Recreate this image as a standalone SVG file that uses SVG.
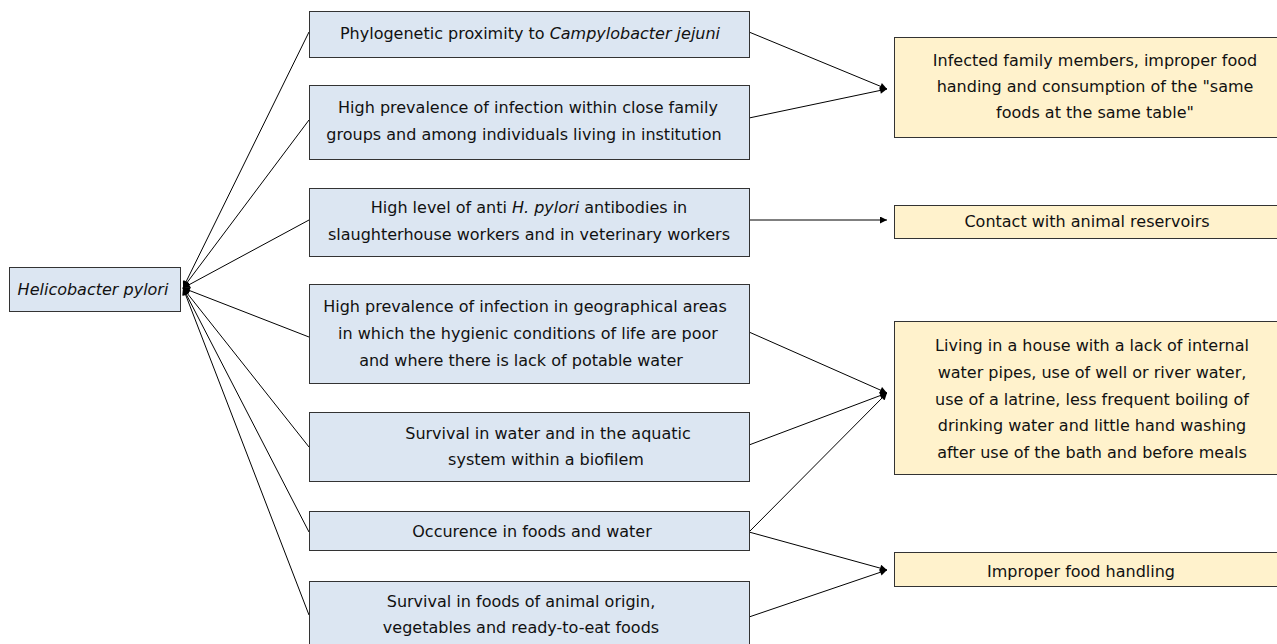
<svg xmlns="http://www.w3.org/2000/svg" width="1277" height="644" viewBox="0 0 1277 644">
<defs>
<marker id="ah" viewBox="0 0 10 10" refX="10" refY="5" markerWidth="10" markerHeight="7" markerUnits="userSpaceOnUse" orient="auto">
<path d="M0,0 L10,5 L0,10 z" fill="#000"/>
</marker>
<style>
.blue{fill:#dce6f2;stroke:#333;stroke-width:1}
.yel{fill:#fff2cc;stroke:#333;stroke-width:1}
text{font-family:"DejaVu Sans",Verdana,sans-serif;font-size:16px;fill:#111;text-anchor:middle}
.c{stroke:#000;stroke-width:1;fill:none}
</style>
</defs>
<rect width="1277" height="644" fill="#fff"/>
<g id="connectors">
<line class="c" x1="309" y1="32" x2="183" y2="288" marker-end="url(#ah)"/>
<line class="c" x1="309" y1="120" x2="183" y2="288" marker-end="url(#ah)"/>
<line class="c" x1="309" y1="220" x2="183" y2="288" marker-end="url(#ah)"/>
<line class="c" x1="309" y1="337" x2="183" y2="288" marker-end="url(#ah)"/>
<line class="c" x1="309" y1="447" x2="183" y2="288" marker-end="url(#ah)"/>
<line class="c" x1="309" y1="532" x2="183" y2="288" marker-end="url(#ah)"/>
<line class="c" x1="309" y1="615" x2="183" y2="288" marker-end="url(#ah)"/>
<line class="c" x1="749" y1="32" x2="887" y2="89" marker-end="url(#ah)"/>
<line class="c" x1="749" y1="118" x2="887" y2="89" marker-end="url(#ah)"/>
<line class="c" x1="749" y1="220" x2="887" y2="220" marker-end="url(#ah)"/>
<line class="c" x1="749" y1="332" x2="887" y2="393" marker-end="url(#ah)"/>
<line class="c" x1="749" y1="445" x2="887" y2="393" marker-end="url(#ah)"/>
<line class="c" x1="749" y1="532" x2="887" y2="393" marker-end="url(#ah)"/>
<line class="c" x1="749" y1="532" x2="887" y2="570" marker-end="url(#ah)"/>
<line class="c" x1="749" y1="617" x2="887" y2="570" marker-end="url(#ah)"/>
</g>
<g id="hp">
<rect class="blue" x="9.5" y="267.5" width="171" height="44"/>
<text x="93" y="295" font-style="italic">Helicobacter pylori</text>
</g>
<g id="b1">
<rect class="blue" x="309.5" y="11.5" width="440" height="46"/>
<text x="530" y="39">Phylogenetic proximity to <tspan font-style="italic">Campylobacter jejuni</tspan></text>
</g>
<g id="b2">
<rect class="blue" x="309.5" y="85.5" width="440" height="74"/>
<text x="528" y="113">High prevalence of infection within close family</text>
<text x="524" y="140">groups and among individuals living in institution</text>
</g>
<g id="b3">
<rect class="blue" x="309.5" y="188.5" width="440" height="68"/>
<text x="529" y="213">High level of anti <tspan font-style="italic">H. pylori</tspan> antibodies in</text>
<text x="529" y="240">slaughterhouse workers and in veterinary workers</text>
</g>
<g id="b4">
<rect class="blue" x="309.5" y="284.5" width="440" height="99"/>
<text x="525" y="312">High prevalence of infection in geographical areas</text>
<text x="528" y="339">in which the hygienic conditions of life are poor</text>
<text x="521" y="366">and where there is lack of potable water</text>
</g>
<g id="b5">
<rect class="blue" x="309.5" y="412.5" width="440" height="69"/>
<text x="548" y="439">Survival in water and in the aquatic</text>
<text x="546" y="465">system within a biofilem</text>
</g>
<g id="b6">
<rect class="blue" x="309.5" y="511.5" width="440" height="39"/>
<text x="532" y="537">Occurence in foods and water</text>
</g>
<g id="b7">
<rect class="blue" x="309.5" y="581.5" width="440" height="80"/>
<text x="521" y="607">Survival in foods of animal origin,</text>
<text x="521" y="633">vegetables and ready-to-eat foods</text>
</g>
<g id="y1">
<rect class="yel" x="894.5" y="37.5" width="400" height="100"/>
<text x="1095" y="66">Infected family members, improper food</text>
<text x="1095" y="92">handing and consumption of the "same</text>
<text x="1095" y="118">foods at the same table"</text>
</g>
<g id="y2">
<rect class="yel" x="894.5" y="205.5" width="400" height="33"/>
<text x="1087" y="227">Contact with animal reservoirs</text>
</g>
<g id="y3">
<rect class="yel" x="894.5" y="321.5" width="400" height="153"/>
<text x="1092" y="351">Living in a house with a lack of internal</text>
<text x="1092" y="378">water pipes, use of well or river water,</text>
<text x="1092" y="405">use of a latrine, less frequent boiling of</text>
<text x="1092" y="431">drinking water and little hand washing</text>
<text x="1092" y="458">after use of the bath and before meals</text>
</g>
<g id="y4">
<rect class="yel" x="894.5" y="552.5" width="400" height="34"/>
<text x="1081" y="577">Improper food handling</text>
</g>
</svg>
